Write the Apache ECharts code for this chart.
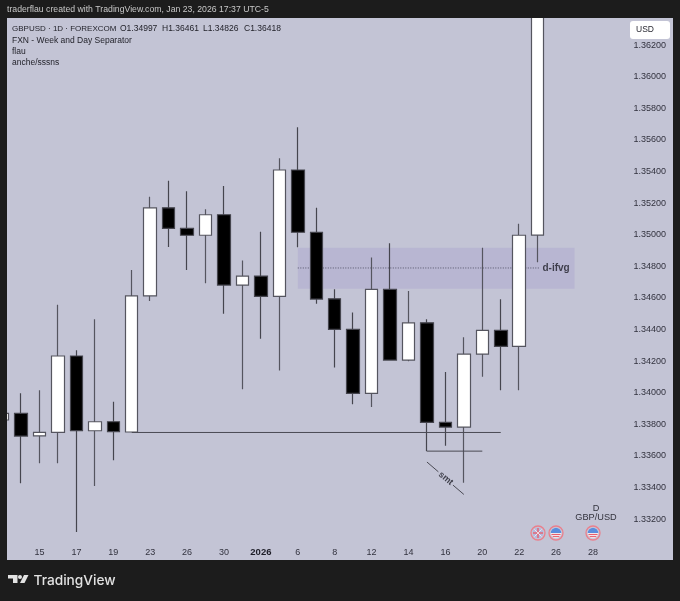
<!DOCTYPE html>
<html><head><meta charset="utf-8">
<style>html,body{margin:0;padding:0;background:#1c1c1c}#c{width:680px;height:601px}</style>
<script src="https://cdn.jsdelivr.net/npm/echarts@6/dist/echarts.min.js"></script>
</head><body><div id="c"></div>
<script>
const dates = ['11','12','15','16','17','18','19','22','23','24','26','29','30','31','2026','5','6','7','8','9','12','13','14','15','16','19','20','21','22','23','26','27','28'];
const xTicks = [2,4,6,8,10,12,14,16,18,20,22,24,26,28,30,32];
const opens  = [1.33827,1.33869,1.33727,1.33749,1.34232,1.33759,1.33816,1.33751,1.34613,1.35170,1.35040,1.34996,1.35126,1.34681,1.34738,1.34609,1.35409,1.35015,1.34594,1.34401,1.33996,1.34654,1.34206,1.34442,1.33812,1.33782,1.34244,1.34394,1.34293,1.34997];
const closes = [1.33869,1.33725,1.33749,1.34232,1.33759,1.33816,1.33753,1.34613,1.35170,1.35040,1.34996,1.35126,1.34681,1.34738,1.34609,1.35409,1.35015,1.34592,1.34401,1.33996,1.34654,1.34206,1.34442,1.33812,1.33782,1.34244,1.34394,1.34293,1.34996,1.36418];
const lows   = [1.33750,1.33426,1.33553,1.33553,1.33118,1.33409,1.33572,1.33751,1.34580,1.34922,1.34776,1.34692,1.34499,1.34021,1.34341,1.34141,1.34920,1.34563,1.34159,1.33926,1.33909,1.34206,1.34198,1.33630,1.33664,1.33430,1.34101,1.34015,1.34016,1.34826];
const highs  = [1.33950,1.33997,1.34016,1.34556,1.34268,1.34464,1.33942,1.34776,1.35240,1.35341,1.35274,1.35160,1.35308,1.34837,1.35018,1.35483,1.35679,1.35170,1.34654,1.34508,1.34856,1.34945,1.34643,1.34464,1.34130,1.34350,1.34917,1.34591,1.35069,1.36461];
const yTicks = [1.332,1.334,1.336,1.338,1.340,1.342,1.344,1.346,1.348,1.350,1.352,1.354,1.356,1.358,1.360,1.362];
const symbolLine = 'GBPUSD · 1D · FOREXCOM';
const ohlcLabels = ['O1.34997','H1.36461','L1.34826','C1.36418'];
const legendLines = ['FXN - Week and Day Separator','flau','anche/sssns'];
const zone = [16, 1.34917, 31, 1.34658];
const zoneMid = [[16, 1.34789],[29.13, 1.34789]];
const sweepLine = [[7, 1.33748],[27, 1.33748]];
const lowLine = [[23, 1.33630],[26, 1.33630]];
const smtA = [[23, 1.33561],[23.62, 1.33499]];
const smtB = [[24.41, 1.33415],[25, 1.33356]];
const smtMid = [24.02, 1.33457];
const zoneLabel = [30.0, 1.34789];
const eventRow = 1.33113;
const events = [[29,'GB'],[30,'US'],[32,'US']];
const wickColor = '#55555f', textColor = '#32323e';
const font = '"Liberation Sans", sans-serif';

const chart = echarts.init(document.getElementById('c'), null, {renderer:'canvas', width:680, height:601});

function lineSeries(data, extra){
  return Object.assign({type:'line', data, symbol:'none', silent:true, animation:false,
    lineStyle:{color:'#4a4a54', width:1}, z:3}, extra||{});
}
function flagItem(params, api){
  const c = api.coord([api.value(0), eventRow]);
  const x = Math.round(c[0]), y = Math.round(c[1]);
  const kind = events[params.dataIndex][1];
  const kids = [{type:'circle', shape:{cx:x,cy:y,r:7}, style:{fill:'#c3c4d5', stroke:'#ea7f8c', lineWidth:1.3}}];
  if(kind==='US'){
    kids.push({type:'circle', shape:{cx:x,cy:y,r:5.3}, style:{fill:'#f4f4f8'}});
    kids.push({type:'sector', shape:{cx:x,cy:y,r:5.3,r0:0,startAngle:Math.PI,endAngle:Math.PI*2}, style:{fill:'#5b8ddc'}});
    kids.push({type:'line', shape:{x1:x-4.6,y1:y+1.5,x2:x+4.6,y2:y+1.5}, style:{stroke:'#e8606e',lineWidth:1.2}});
    kids.push({type:'line', shape:{x1:x-3.4,y1:y+3.6,x2:x+3.4,y2:y+3.6}, style:{stroke:'#e8606e',lineWidth:1.1}});
  } else {
    kids.push({type:'circle', shape:{cx:x,cy:y,r:5.3}, style:{fill:'#b4b9de'}});
    kids.push({type:'line', shape:{x1:x-5,y1:y,x2:x+5,y2:y}, style:{stroke:'#e8606e',lineWidth:1.4}});
    kids.push({type:'line', shape:{x1:x,y1:y-5,x2:x,y2:y+5}, style:{stroke:'#e8606e',lineWidth:1.4}});
    kids.push({type:'line', shape:{x1:x-3.6,y1:y-3.6,x2:x+3.6,y2:y+3.6}, style:{stroke:'#f4f4f8',lineWidth:0.8}});
    kids.push({type:'line', shape:{x1:x-3.6,y1:y+3.6,x2:x+3.6,y2:y-3.6}, style:{stroke:'#f4f4f8',lineWidth:0.8}});
  }
  return {type:'group', children:kids};
}

const txt = (x,y,text,o) => ({type:'text', x, y, z:100, silent:true, style:Object.assign({text, font:'8.5px '+font, fill:'#23232b', textVerticalAlign:'middle'}, o||{})});
const legendYs = [41,52,63];
const ohlcXs = [120,162,203,244];

chart.setOption({
  animation:false,
  backgroundColor:'#1c1c1c',
  grid:{left:7, top:18, width:666, height:542, show:true, backgroundColor:'#c3c4d5', borderWidth:0},
  xAxis:{type:'value', min:0.2385, max:36.336,
     axisLine:{show:false}, axisTick:{show:false}, splitLine:{show:false},
     axisLabel:{inside:true, margin:3, customValues:xTicks, color:textColor, fontSize:9, fontFamily:font,
       formatter:(v)=>{const s=dates[Math.round(v)]; return s==='2026' ? '{b|2026}' : s;},
       rich:{b:{fontWeight:'bold', fontSize:9.5, color:'#1e1e28', fontFamily:font}}}},
  yAxis:{type:'value', position:'right', min:1.32941, max:1.36371,
    axisLine:{show:false}, axisTick:{show:false}, splitLine:{show:false},
    axisLabel:{inside:true, margin:7, customValues:yTicks, color:textColor, fontSize:9, fontFamily:font, formatter:(v)=>v.toFixed(5)}},
  series:[
    {type:'custom', z:1, silent:true, clip:true, data:[zone],
      renderItem:(p,api)=>{
        const a=api.coord([api.value(0),api.value(1)]), b=api.coord([api.value(2),api.value(3)]);
        return {type:'rect', shape:{x:a[0],y:a[1],width:b[0]-a[0],height:b[1]-a[1]}, style:{fill:'#b8b6d2'}};
      }},
    lineSeries(zoneMid,{z:1.5, lineStyle:{color:'#55556a', width:1, type:[1,1.5]}}),
    {type:'candlestick', z:2, silent:true, barWidth:13, clip:true, layout:'horizontal',
      data:opens.map((o,i)=>[i,o,closes[i],lows[i],highs[i]]),
      itemStyle:{color:'#ffffff', color0:'#000000', borderColor:wickColor, borderColor0:'#45454e', borderWidth:1.2}},
    lineSeries(sweepLine),
    lineSeries(lowLine),
    lineSeries(smtA),
    lineSeries(smtB),
    {type:'scatter', z:4, silent:true, symbolSize:0, data:[smtMid],
      label:{show:true, position:'inside', formatter:'smt', rotate:-40, color:'#1e1e28', fontSize:9, fontWeight:'bold', fontFamily:font}},
    {type:'scatter', z:4, silent:true, symbolSize:0, data:[zoneLabel],
      label:{show:true, position:'inside', formatter:'d-ifvg', color:'#1e1e28', fontSize:10, fontWeight:'bold', fontFamily:font}},
    {type:'custom', z:5, silent:true, data:events.map(e=>[e[0]]), renderItem:flagItem}
  ],
  graphic:{elements:[
    {type:'rect', z:99, silent:true, shape:{x:0,y:0,width:680,height:18}, style:{fill:'#1c1c1c'}},
    {type:'rect', z:99, silent:true, shape:{x:0,y:0,width:7,height:601}, style:{fill:'#1c1c1c'}},
    {type:'rect', z:100, silent:true, shape:{x:630,y:21,width:40,height:18,r:3}, style:{fill:'#ffffff'}},
    txt(636,30,'USD',{fill:'#2a2a33'}),
    txt(7,10,'traderflau created with TradingView.com, Jan 23, 2026 17:37 UTC-5',{fill:'#c8c8c8',font:'8.7px '+font}),
    txt(12,29,symbolLine,{font:'8px '+font}),
    ...ohlcLabels.map((t,i)=>txt(ohlcXs[i],29,t)),
    ...legendLines.map((t,i)=>txt(12,legendYs[i],t)),
    txt(596,508,'D',{textAlign:'center',fill:'#33333d',font:'9.2px '+font}),
    txt(596,517,'GBP/USD',{textAlign:'center',fill:'#33333d',font:'9.2px '+font}),
    {type:'polygon', z:100, silent:true, shape:{points:[[8,575],[17.5,575],[17.5,583],[13,583],[13,578.5],[8,578.5]]}, style:{fill:'#e2e2e2'}},
    {type:'circle', z:100, silent:true, shape:{cx:20,cy:577,r:2}, style:{fill:'#e2e2e2'}},
    {type:'polygon', z:100, silent:true, shape:{points:[[24,575],[28.5,575],[24.5,583],[20,583]]}, style:{fill:'#e2e2e2'}},
    txt(33.5,581,'TradingView',{fill:'#e2e2e2',font:'500 13.7px Inter, '+font})
  ]}
});
</script></body></html>
